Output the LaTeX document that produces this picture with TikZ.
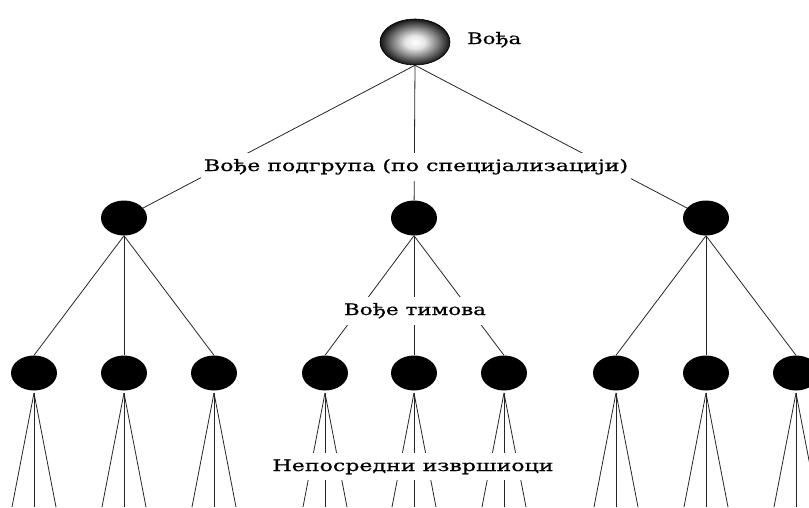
\documentclass[tikz,border=0pt]{standalone}
\usepackage{fontspec}
\usepackage{graphicx}
\setmainfont{DejaVu Serif}
\newfontfamily\lblfont[FakeBold=0.6]{DejaVu Serif}
\usetikzlibrary{shapes.geometric}
\pgfdeclareradialshading{ballshade}{\pgfpoint{0bp}{0bp}}{color(0bp)=(white); color(7bp)=(white!90!black); color(16bp)=(black!50); color(22bp)=(black!78); color(25bp)=(black!92); color(50bp)=(black)}
\newcommand{\mylbl}[2]{\resizebox{#1}{\height}{\lblfont\fontsize{15.8}{18}\selectfont #2}}
\tikzset{
  topnode/.style={ellipse, draw=black, line width=0.6pt, minimum width=70pt, minimum height=46pt, inner sep=0pt, shading=ballshade},
  dotnode/.style={ellipse, fill=black, minimum width=46pt, minimum height=35pt, inner sep=0pt},
  conn/.style={draw=black!85, line width=0.8pt},
  lbl/.style={fill=white, inner xsep=3pt, inner ysep=6pt, anchor=base},
}
\begin{document}
\begin{tikzpicture}[x=1pt,y=-1pt]
\useasboundingbox (0,0) rectangle (809,507);
% nodes
\node[topnode] (top) at (415,42) {};
\node[dotnode] (a) at (124,218) {};
\node[dotnode] (b) at (414,218) {};
\node[dotnode] (c) at (706,218) {};
\foreach \n/\x in {a1/34,a2/124,a3/214,b1/325,b2/414,b3/504,c1/616,c2/706,c3/796}{
  \node[dotnode] (\n) at (\x,373) {};
  \coordinate (\n l) at (\x-22,507);
  \coordinate (\n m) at (\x,507);
  \coordinate (\n r) at (\x+22,507);
  \coordinate (\n s) at (\x,393);
}
% connectors
\foreach \p in {a,b,c}{ \draw[conn] (top.south) -- (\p); }
\foreach \p in {a,b,c}{
  \foreach \k in {1,2,3}{ \draw[conn] (\p.south) -- (\p\k.north); }
}
\foreach \n in {a1,a2,a3,b1,b2,b3,c1,c2,c3}{
  \draw[conn] (\n s) -- (\n l);
  \draw[conn] (\n s) -- (\n m);
  \draw[conn] (\n s) -- (\n r);
}
% labels
\node[anchor=base west, inner sep=0pt] (lvoda) at (467,44) {\mylbl{54pt}{Вођа}};
\node[lbl] (lsub) at (416,171) {\mylbl{424pt}{Вође подгрупа (по специјализацији)}};
\node[lbl] (ltim) at (415,315) {\mylbl{142pt}{Вође тимова}};
\node[lbl] (lneo) at (413,471) {\mylbl{281pt}{Непосредни извршиоци}};
\end{tikzpicture}
\end{document}
